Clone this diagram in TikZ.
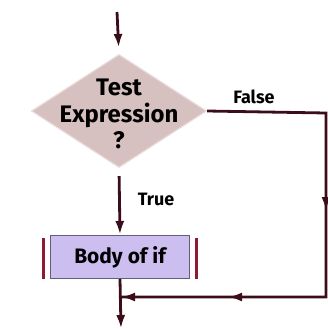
\documentclass[tikz,border=0pt]{standalone}
\usepackage{fontspec}
\setmainfont{Fira Sans}
\usetikzlibrary{shapes.geometric,arrows.meta}

\definecolor{flowline}{HTML}{3B0D18}
\definecolor{testfill}{HTML}{D6C0C0}
\definecolor{testedge}{HTML}{EADADA}
\definecolor{bodyfill}{HTML}{CDBEF0}
\definecolor{bodyedge}{HTML}{5B5F80}
\definecolor{barred}{HTML}{8C1C30}

\tikzset{
  line/.style={draw=flowline,line width=2.8bp},
  flow/.style={line,-{Latex[length=14bp,width=9bp]}},
  decision/.style={diamond,draw=testedge,line width=1.2bp,fill=testfill,
    minimum width=175bp,minimum height=113bp,inner sep=0pt},
  block/.style={rectangle,draw=bodyedge,line width=1bp,fill=bodyfill,
    minimum width=138bp,minimum height=43bp},
  bar/.style={draw=barred,line width=2.2bp},
  lbl/.style={font=\bfseries,text=black}
}

\begin{document}
\begin{tikzpicture}[x=1bp,y=-1bp]
\useasboundingbox (0,0) rectangle (328,329);

\node[decision] (test) at (119,111) {};
\node[lbl,font=\bfseries\fontsize{24}{27}\selectfont,align=center] (testtext) at (119,114) {Test\\Expression\\?};

\node[block] (body) at (120,257) {};
\node[lbl,font=\bfseries\fontsize{21}{23}\selectfont] (bodytext) at (body) {Body of if};

% side bars
\draw[bar] ([xshift=-7bp,yshift=-3bp]body.north west) -- ([xshift=-7bp]body.south west);
\draw[bar] ([xshift=7bp,yshift=-3bp]body.north east) -- ([xshift=7bp]body.south east);

\coordinate (start) at (117,12);
\coordinate (fr) at (326,113);
\coordinate (frmid) at (326,211);
\coordinate (fb) at (326,297);
\coordinate (fbmid) at (228,297);
\coordinate (merge) at (121,297);
\coordinate (stop) at (121,329);

\draw[flow,shorten >=6bp] (start) -- (test.north);
\draw[flow,shorten <=8bp] (test.south) -- (body.north);
\node[lbl,font=\bfseries\fontsize{18}{20}\selectfont] (truelbl) at (156,199) {True};

\draw[line] (test.east) -- (fr) -- (fb) -- (merge);
\draw[flow] (fr) -- (frmid);
\draw[flow] (fb) -- (fbmid);
\draw[flow] (fbmid) -- (merge);
\node[lbl,font=\bfseries\fontsize{18}{20}\selectfont] (falselbl) at (254,97) {False};

\draw[flow] (body.south) -- (stop);
\end{tikzpicture}
\end{document}
